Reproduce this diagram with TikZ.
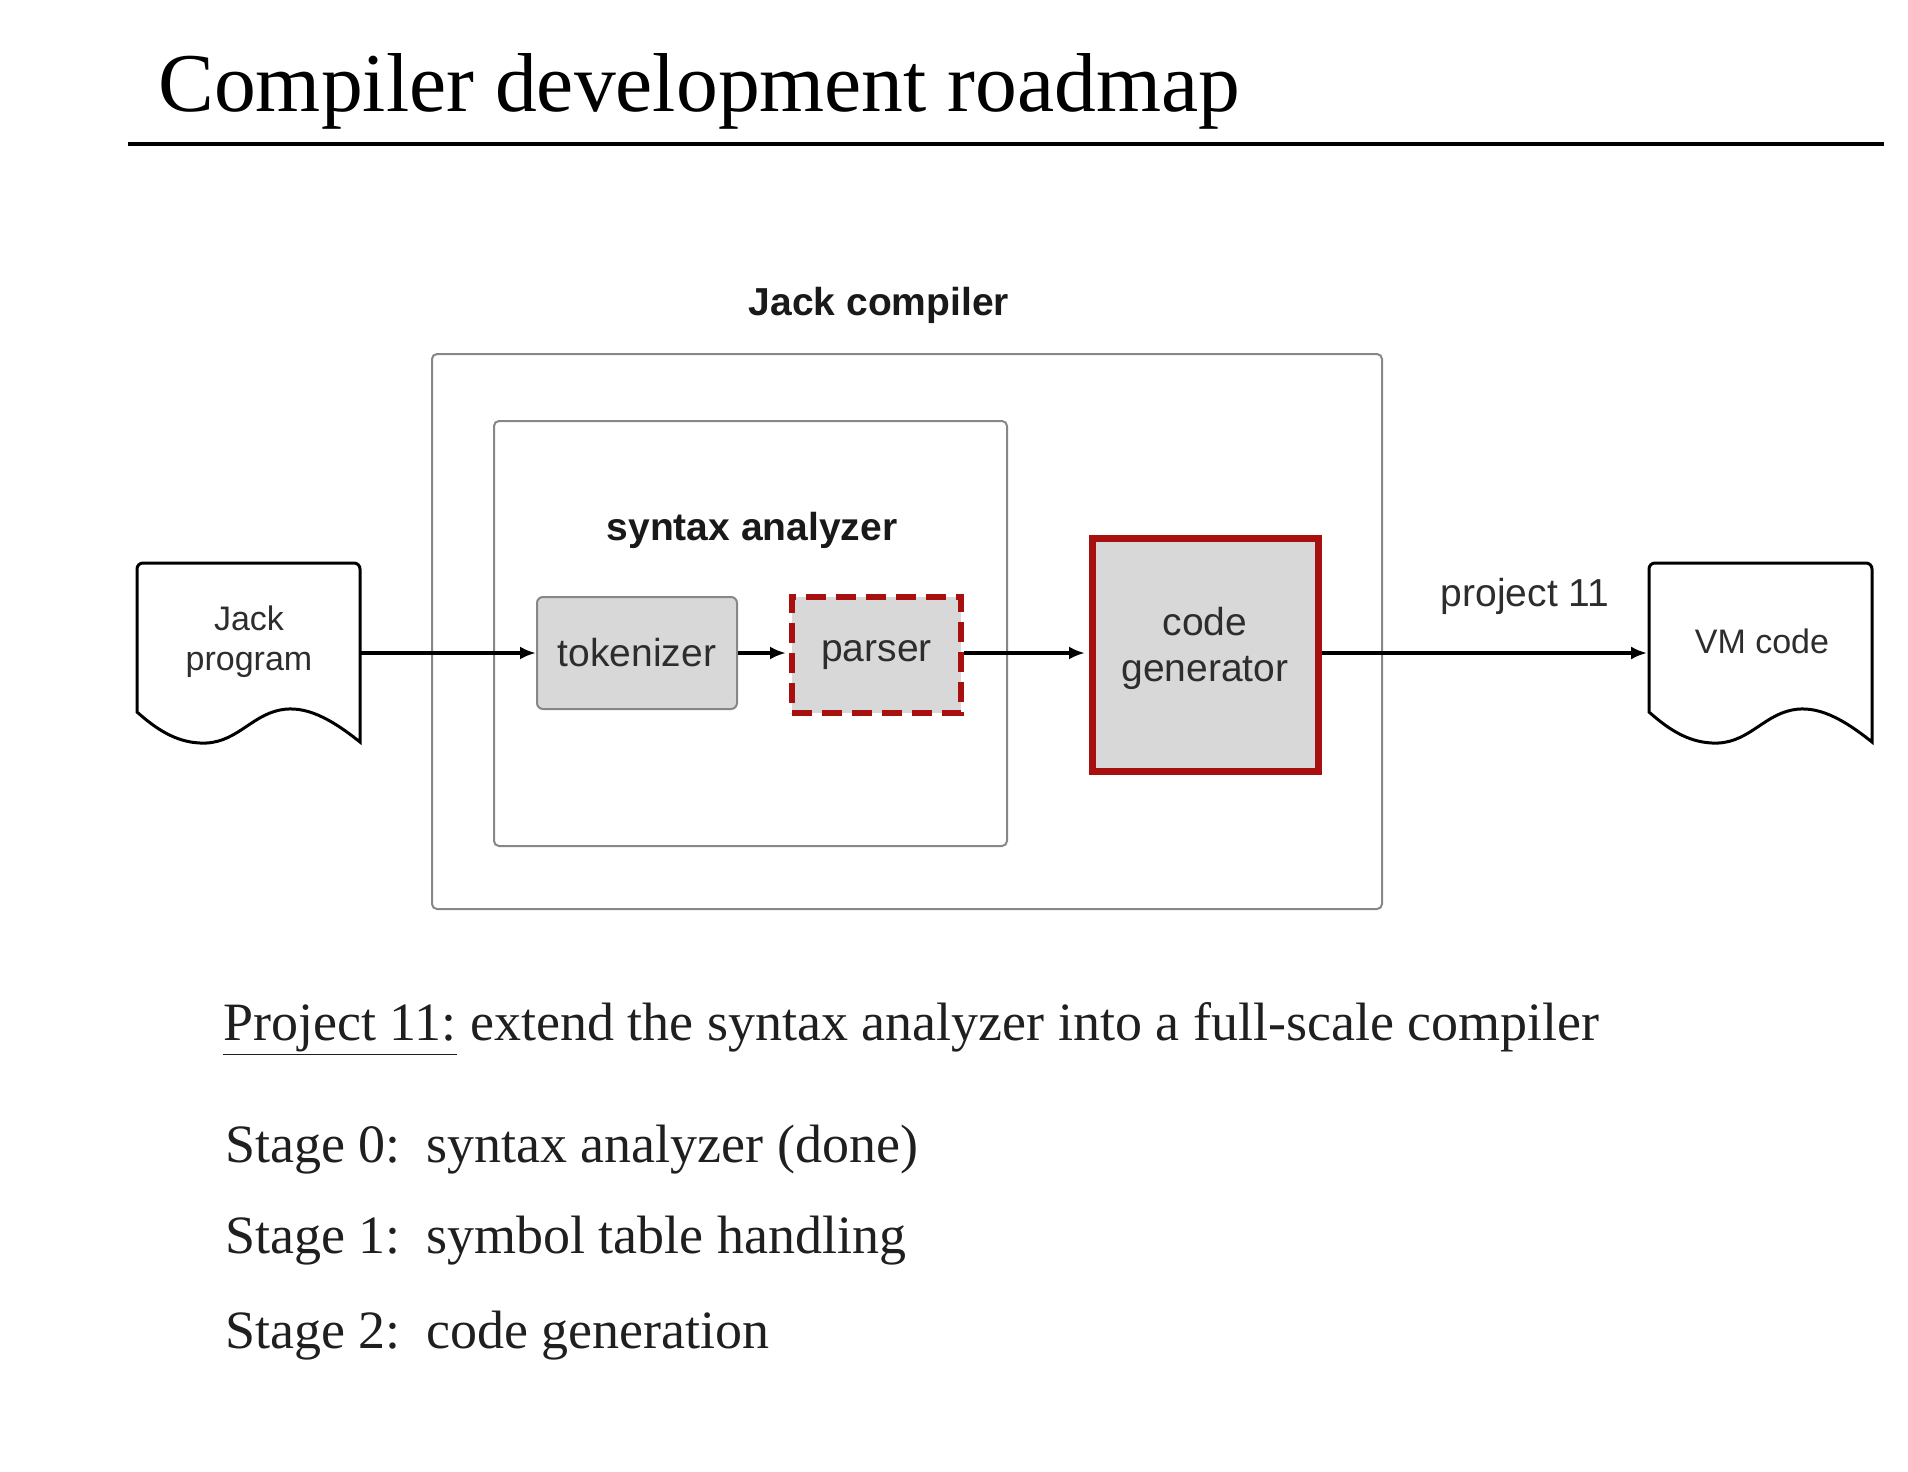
\documentclass[tikz,border=0pt]{standalone}
\usepackage{fontspec}
\setmainfont{Liberation Serif}
\setsansfont{Liberation Sans}
\usetikzlibrary{fit,arrows.meta,calc}
\definecolor{dred}{RGB}{168,16,16}
\definecolor{boxgray}{RGB}{216,216,216}
\definecolor{edgegray}{RGB}{135,135,135}
\definecolor{txt}{RGB}{45,45,45}
\begin{document}
\begin{tikzpicture}[x=0.5pt,y=-0.5pt,
  lbl/.style={font=\sffamily\fontsize{19.5}{24}\selectfont, text=txt, align=center},
  doclbl/.style={font=\sffamily\fontsize{17}{21}\selectfont, text=txt, align=center},
  boldlbl/.style={font=\sffamily\bfseries\fontsize{19.5}{24}\selectfont, text=black!90},
  body/.style={font=\fontsize{27}{33}\selectfont, text=black!88, inner sep=0pt, anchor=base west},
  frame/.style={draw=edgegray, line width=1pt, rounded corners=2.5pt, inner sep=0pt},
  graybox/.style={draw=edgegray, fill=boxgray, line width=1pt, rounded corners=3pt, inner sep=0pt, lbl},
  parserbox/.style={draw=dred, fill=boxgray, line width=3pt, dash pattern=on 10pt off 5pt, inner sep=0pt, lbl},
  genbox/.style={draw=dred, fill=boxgray, line width=3.5pt, inner sep=0pt, lbl},
  arr/.style={line width=2pt, -{Latex[length=8pt,width=6.5pt]}},
  docshape/.pic={
    \draw[line width=1.5pt, fill=white] (0,149) [rounded corners=3pt] -- (0,0) -- (223,0) [sharp corners] -- (223,179)
      .. controls (193,155) and (168,142) .. (143,147)
      .. controls (113,153) and (98,182) .. (63,180)
      .. controls (38,179) and (18,165) .. (0,149) -- cycle;
  }
]
\useasboundingbox (0,0) rectangle (1908,1472);

% title
\node[font=\fontsize{41.8}{50}\selectfont, anchor=base west, inner sep=0pt] (title) at (158,112) {Compiler development roadmap};
\coordinate (ruleL) at (128,144);
\coordinate (ruleR) at (1884,144);
\draw[line width=1.7pt] (ruleL) -- (ruleR);

% frames
\node[frame, fit={(432,354) (1382,909)}] (jc) {};
\node[boldlbl] (jclbl) at (879,305) {Jack compiler};
\node[frame, fit={(494,421) (1007,846)}] (sa) {};
\node[boldlbl] (salbl) at (752,530) {syntax analyzer};

% inner boxes
\node[graybox, fit={(537,597) (737,709)}] (tok) {};
\node[lbl] (toklbl) at (tok.center) {tokenizer};
\node[parserbox, fit={(792,597) (961,713)}] (par) {};
\node[lbl] (parlbl) at (par.center) {parser};
\node[genbox, fit={(1092,538) (1318,771)}] (gen) {};
\node[lbl] (genlbl) at ($(gen.center)+(0,-6)$) {code\\[-1pt]generator};

% documents
\pic at (137,563) {docshape};
\node[inner sep=0pt, minimum width=111.5pt, minimum height=79.5pt] (jack) at (248.5,642.5) {};
\node[doclbl] (jacklbl) at (249,642) {Jack\\[-1pt]program};
\pic at (1649,563) {docshape};
\node[inner sep=0pt, minimum width=111.5pt, minimum height=79.5pt] (vm) at (1760.5,642.5) {};
\node[doclbl] (vmlbl) at (1762,641) {VM code};

% arrows
\draw[arr] (jack.east |- tok.west) -- (tok.west);
\draw[arr] (tok.east) -- ([xshift=-1.5pt]par.west |- tok.east);
\draw[arr] (par.east |- tok.east) -- ([xshift=-1.75pt]gen.west |- tok.east);
\draw[arr] (gen.east |- tok.east) -- ([xshift=-0.75pt]vm.west |- tok.east);
\node[lbl] (p11lbl) at (1525,596) {project 11};

% text
\node[body] (proj) at (223,1040) {\underline{Project 11:} extend the syntax analyzer into a full-scale compiler};
\node[body] (s0) at (225,1162) {Stage 0:};
\node[body] (s0t) at (426,1162) {syntax analyzer (done)};
\node[body] (s1) at (225,1253) {Stage 1:};
\node[body] (s1t) at (426,1253) {symbol table handling};
\node[body] (s2) at (225,1348) {Stage 2:};
\node[body] (s2t) at (426,1348) {code generation};
\end{tikzpicture}
\end{document}
